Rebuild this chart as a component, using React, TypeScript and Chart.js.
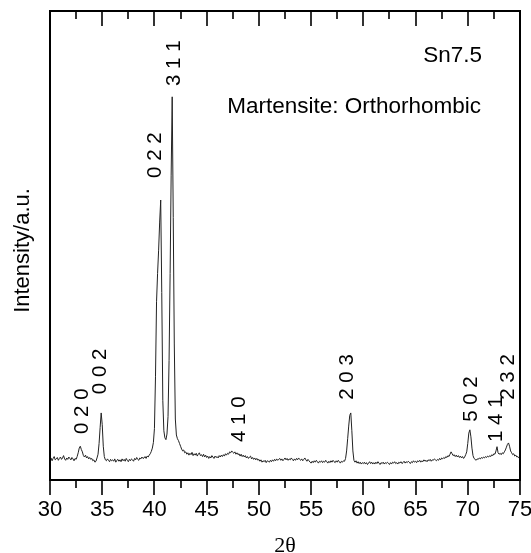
import React, { useEffect, useRef } from "react";
import { Chart, registerables } from "chart.js";

Chart.register(...registerables);

// Diffraction scan: intensity sampled every 0.1° of 2θ from 30° to 75°
const ANGLE_START = 30;
const ANGLE_STEP = 0.1;
const intensity = [
  44, 47, 41, 46, 50, 43, 45, 48, 42, 46, // 30
  49, 44, 47, 52, 45, 42, 47, 44, 49, 46, // 31
  43, 48, 45, 41, 46, 44, 50, 58, 68, 72, // 32
  65, 60, 52, 49, 53, 47, 50, 45, 48, 44, // 33
  46, 41, 43, 38, 40, 47, 55, 78, 112, 143, // 34
  118, 72, 50, 43, 41, 45, 42, 39, 44, 41, // 35
  43, 40, 45, 38, 42, 44, 40, 43, 39, 45, // 36
  41, 44, 40, 46, 42, 39, 44, 41, 45, 43, // 37
  40, 46, 43, 48, 44, 42, 47, 45, 49, 46, // 38
  47, 50, 46, 51, 49, 53, 56, 61, 68, 80, // 39
  110, 220, 380, 440, 490, 550, 597, 400, 170, 105, // 40
  90, 86, 98, 135, 255, 440, 650, 817, 560, 290, // 41
  130, 96, 88, 84, 78, 72, 66, 62, 64, 58, // 42
  60, 55, 58, 53, 57, 54, 59, 52, 56, 53, // 43
  57, 51, 55, 58, 52, 54, 50, 55, 49, 53, // 44
  48, 51, 46, 50, 47, 52, 49, 46, 51, 48, // 45
  50, 47, 52, 49, 53, 50, 54, 51, 56, 53, // 46
  57, 55, 60, 58, 62, 59, 57, 60, 55, 58, // 47
  54, 56, 51, 55, 50, 53, 49, 52, 47, 50, // 48
  46, 49, 51, 45, 48, 44, 47, 43, 46, 42, // 49
  44, 40, 43, 38, 41, 39, 42, 37, 41, 40, // 50
  38, 42, 39, 43, 40, 44, 41, 45, 42, 44, // 51
  46, 42, 45, 41, 44, 47, 43, 46, 42, 45, // 52
  43, 47, 44, 41, 45, 42, 46, 43, 47, 44, // 53
  42, 45, 41, 44, 47, 43, 40, 44, 41, 38, // 54
  36, 40, 37, 41, 38, 42, 39, 36, 40, 38, // 55
  41, 37, 40, 38, 42, 39, 36, 40, 37, 41, // 56
  38, 42, 39, 37, 41, 38, 42, 39, 36, 40, // 57
  38, 41, 40, 46, 62, 88, 115, 138, 143, 105, // 58
  62, 42, 38, 41, 36, 39, 35, 38, 34, 37, // 59
  35, 38, 34, 37, 33, 36, 39, 35, 38, 34, // 60
  37, 34, 38, 35, 39, 36, 33, 37, 35, 38, // 61
  34, 37, 35, 38, 36, 33, 37, 34, 38, 36, // 62
  39, 35, 37, 34, 38, 36, 39, 35, 37, 40, // 63
  36, 39, 37, 40, 38, 35, 39, 37, 41, 38, // 64
  40, 37, 41, 39, 42, 38, 41, 39, 43, 40, // 65
  42, 39, 43, 41, 44, 40, 43, 42, 45, 43, // 66
  41, 44, 42, 46, 43, 47, 45, 48, 46, 50, // 67
  48, 52, 50, 55, 60, 56, 52, 54, 50, 53, // 68
  49, 52, 48, 51, 47, 50, 46, 49, 54, 60, // 69
  78, 100, 107, 92, 68, 52, 46, 44, 42, 45, // 70
  44, 47, 45, 48, 46, 49, 47, 50, 48, 51, // 71
  49, 52, 50, 54, 52, 56, 55, 62, 71, 58, // 72
  55, 57, 54, 58, 56, 60, 64, 70, 76, 79, // 73
  72, 62, 58, 54, 56, 51, 53, 49, 50, 47, // 74
  48, // 75
];

// Axis ticks on the 2θ axis
const majorTicks = [30, 35, 40, 45, 50, 55, 60, 65, 70, 75];
const minorTicks = [32.5, 37.5, 42.5, 47.5, 52.5, 57.5, 62.5, 67.5, 72.5];

// Miller indices of the reflections, with the 2θ and intensity where each label starts
const peakLabels = ["0 2 0", "0 0 2", "0 2 2", "3 1 1", "4 1 0", "2 0 3", "5 0 2", "1 4 1", "2 3 2"];
const peakLabelAngles = [33.1, 34.85, 40.1, 41.95, 48.15, 58.5, 70.35, 72.75, 73.9];
const peakLabelBase = [98, 183, 644, 840, 81, 171, 124, 81, 171];

const SANS = "'Liberation Sans', Arial, Helvetica, sans-serif";
const SERIF = "'Liberation Serif', 'Times New Roman', serif";

const points = intensity.map((v, i) => ({ x: ANGLE_START + i * ANGLE_STEP, y: v }));

const framePlugin = {
  id: "xrdFrame",
  afterDatasetsDraw(chart: any) {
    const { ctx, chartArea, scales } = chart;
    const { left, right, top, bottom } = chartArea;
    const xs = scales.x;
    const ys = scales.y;
    ctx.save();

    // box around the plot
    ctx.strokeStyle = "#000";
    ctx.lineWidth = 2;
    ctx.strokeRect(left, top, right - left, bottom - top);

    // ticks: outward on the bottom axis, inward on the top edge
    const tick = (v: number, len: number) => {
      const px = Math.round(xs.getPixelForValue(v));
      ctx.beginPath();
      ctx.moveTo(px, bottom);
      ctx.lineTo(px, bottom + len);
      ctx.moveTo(px, top);
      ctx.lineTo(px, top + len);
      ctx.stroke();
    };
    ctx.lineWidth = 1.6;
    majorTicks.forEach((v) => tick(v, 15));
    minorTicks.forEach((v) => tick(v, 8));

    ctx.fillStyle = "#000";

    // sample name and phase
    ctx.font = `22.5px ${SANS}`;
    ctx.textAlign = "right";
    ctx.textBaseline = "alphabetic";
    ctx.fillText("Sn7.5", right - 38, top + 51);
    ctx.fillText("Martensite: Orthorhombic", right - 39, top + 102);

    // axis titles
    ctx.font = `22px ${SERIF}`;
    ctx.textAlign = "center";
    ctx.textBaseline = "middle";
    ctx.fillText("2θ", (left + right) / 2, bottom + 66);

    ctx.save();
    ctx.font = `22px ${SANS}`;
    ctx.translate(left - 21, (top + bottom) / 2 + 5);
    ctx.rotate(-Math.PI / 2);
    ctx.textAlign = "center";
    ctx.textBaseline = "alphabetic";
    ctx.fillText("Intensity/a.u.", 0, 0);
    ctx.restore();

    // reflection indices, written upward from above each peak
    ctx.font = `20.5px ${SANS}`;
    peakLabels.forEach((label, i) => {
      const px = xs.getPixelForValue(peakLabelAngles[i]);
      const py = ys.getPixelForValue(peakLabelBase[i]);
      ctx.save();
      ctx.translate(px, py);
      ctx.rotate(-Math.PI / 2);
      ctx.textAlign = "left";
      ctx.textBaseline = "middle";
      ctx.fillText(label, 0, 0);
      ctx.restore();
    });

    ctx.restore();
  },
};

export default function App() {
  const canvasRef = useRef<HTMLCanvasElement>(null);

  useEffect(() => {
    const canvas = canvasRef.current;
    if (!canvas) return;
    const chart = new Chart(canvas, {
      type: "line",
      data: {
        datasets: [
          {
            data: points,
            borderColor: "#222222",
            borderWidth: 1,
            pointRadius: 0,
            tension: 0,
            fill: false,
          },
        ],
      },
      options: {
        responsive: false,
        animation: false,
        devicePixelRatio: 1,
        layout: { padding: { left: 50, right: 11, top: 11, bottom: 13.6 } },
        plugins: {
          legend: { display: false },
          tooltip: { enabled: false },
        },
        scales: {
          x: {
            type: "linear",
            min: 30,
            max: 75,
            grid: { display: false, drawTicks: false },
            border: { display: false },
            ticks: {
              stepSize: 5,
              autoSkip: false,
              maxRotation: 0,
              padding: 16.5,
              color: "#000",
              font: { family: SANS, size: 22 },
            },
            afterFit: (scale: any) => {
              scale.paddingLeft = 0;
              scale.paddingRight = 0;
            },
          },
          y: {
            display: false,
            min: 0,
            max: 1000,
          },
        },
      },
      plugins: [framePlugin],
    } as any);
    return () => chart.destroy();
  }, []);

  return (
    <div style={{ position: "absolute", left: 0, top: 0, width: 531, height: 553, background: "#fff" }}>
      <canvas ref={canvasRef} width={531} height={553} style={{ display: "block", width: 531, height: 553 }} />
    </div>
  );
}
